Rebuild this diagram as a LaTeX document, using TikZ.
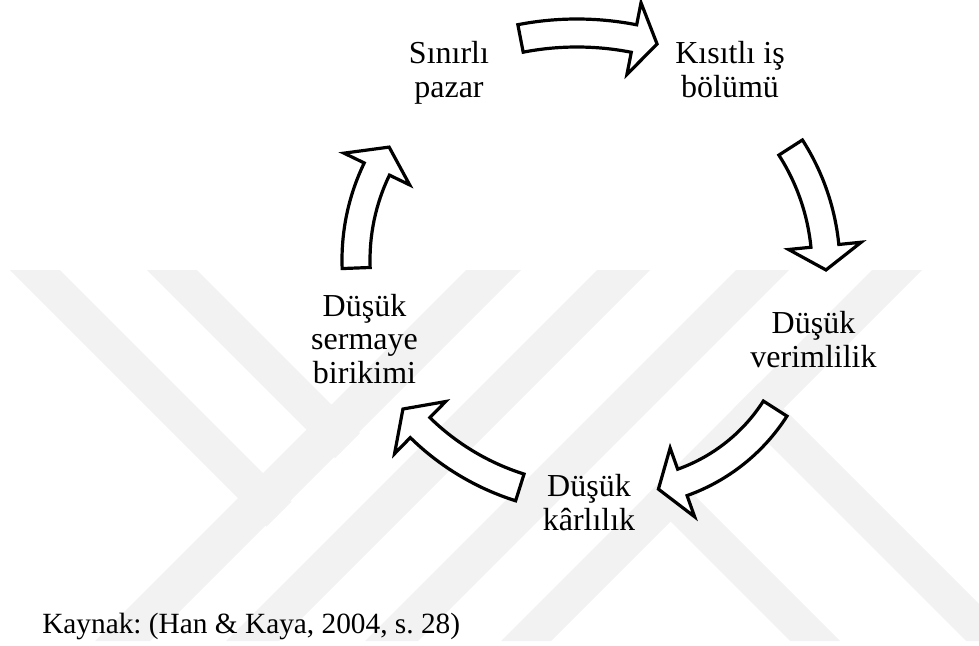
\documentclass[tikz,border=0pt]{standalone}
\usepackage{fontspec}
\setmainfont{Liberation Serif}
\frenchspacing
% curved block arrow on a circle: centre x, centre y, radius, tail angle, head-base angle, tip angle
\newcommand\cycarrow[6]{%
  \pgfmathsetmacro\cycRo{#3+14}\pgfmathsetmacro\cycRi{#3-14}%
  \pgfmathsetmacro\cycWo{#3+36.5}\pgfmathsetmacro\cycWi{#3-36.5}%
  \begin{scope}[shift={(#1,#2)}]
    \draw[cyc] (#4:\cycRo) arc[start angle=#4, end angle=#5, radius=\cycRo]
      -- (#5:\cycWo) -- (#6:#3) -- (#5:\cycWi) -- (#5:\cycRi)
      arc[start angle=#5, end angle=#4, radius=\cycRi] -- cycle;
  \end{scope}}
\begin{document}
\begin{tikzpicture}[x=0.75pt,y=-0.75pt,
  band/.style={fill=black!5, draw=none},
  cyc/.style={draw=black, fill=white, line width=2.4pt, line join=miter},
  lbl/.style={font=\fontsize{24}{25.1}\selectfont, align=center, inner sep=0pt},
  src/.style={font=\fontsize{22}{26}\selectfont, inner sep=0pt}]
\useasboundingbox (0,0) rectangle (979,646);

% background emblem made of diagonal stripes
\begin{scope}
  \clip (0,0) rectangle (979,646);
  \fill[band] (10,270) -- (60,270) -- (291.5,501.5) -- (266.5,526.5) -- cycle;
  \fill[band] (147,270) -- (197,270) -- (360,433) -- (335,458) -- cycle;
  \fill[band] (466,270) -- (521,270) -- (150,641) -- (95,641) -- cycle;
  \fill[band] (597,270) -- (650,270) -- (279,641) -- (226,641) -- cycle;
  \fill[band] (736,270) -- (789,270) -- (418,641) -- (365,641) -- cycle;
  \fill[band] (872,270) -- (922,270) -- (551,641) -- (501,641) -- cycle;
  \fill[band] (645.5,496.5) -- (670.5,471.5) -- (840,641) -- (790,641) -- cycle;
  \fill[band] (733.5,408.5) -- (758.5,383.5) -- (1016,641) -- (966,641) -- cycle;
\end{scope}

% the vicious circle
\cycarrow{577}{329}{296}{-101}{-78.9}{-74.3}
\cycarrow{603}{268}{223}{-32.7}{-5.7}{0.5}
\cycarrow{621}{310}{183}{32.6}{70.4}{78.2}
\cycarrow{595}{249}{250}{107.5}{134.4}{140.2}
\cycarrow{565}{260}{209}{177.8}{205.8}{212.7}

% labels (anchored at the baseline of their last line)
\node[lbl, anchor=base] (sinirli)  at (449,97)    {Sınırlı\\pazar};
\node[lbl, anchor=base] (kisitli)  at (730,97)    {Kısıtlı iş\\bölümü};
\node[lbl, anchor=base] (verim)    at (813.5,367) {Düşük\\verimlilik};
\node[lbl, anchor=base] (karlilik) at (589,530)   {Düşük\\kârlılık};
\node[lbl, anchor=base] (sermaye)  at (364.5,383) {Düşük\\sermaye\\birikimi};

\node[src, anchor=base west] (kaynak) at (42,633) {Kaynak: (Han \& Kaya, 2004, s. 28)};
\end{tikzpicture}
\end{document}
